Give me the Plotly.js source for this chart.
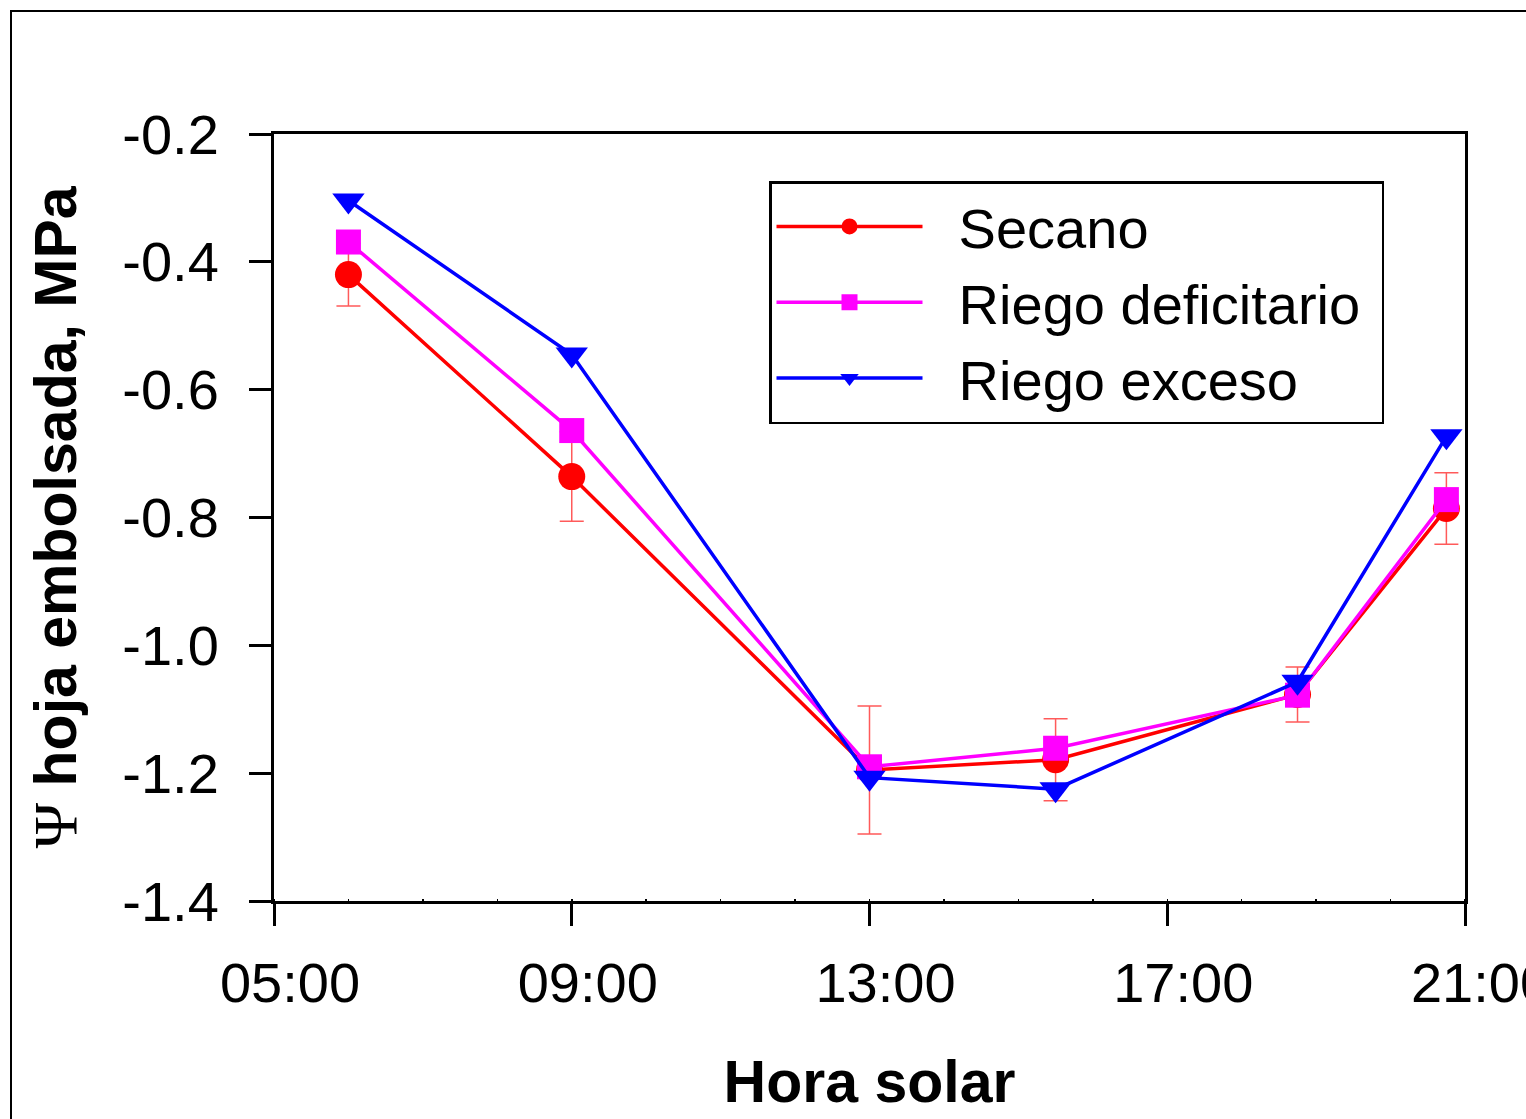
<!DOCTYPE html>
<html>
<head>
<meta charset="utf-8">
<script src="https://cdn.plot.ly/plotly-3.0.1.min.js"></script>
<style>
  html, body { margin: 0; padding: 0; background: #fff; overflow: hidden; }
  #chart { width: 1526px; height: 1119px; }
</style>
</head>
<body>
<div id="chart"></div>
<script>
// Hours of day (solar time, decimal hours)
const hours = [6.0, 9.0, 13.0, 15.5, 18.75, 20.75];

// Leaf water potential (MPa)
const secano = [-0.42, -0.736, -1.195, -1.179, -1.077, -0.786];
const secanoErr = [0.049, 0.070, 0.100, 0.064, 0.043, 0.056];
const riegoDeficitario = [-0.369, -0.664, -1.190, -1.161, -1.078, -0.772];
const riegoExceso = [-0.304, -0.545, -1.207, -1.225, -1.057, -0.673];

// Series names
const seriesNames = ["Secano", "Riego deficitario", "Riego exceso"];

// Tick labels
const xTickVals = [5, 9, 13, 17, 21];
const xTickText = ["05:00", "09:00", "13:00", "17:00", "21:00"];
const yTickVals = [-0.2, -0.4, -0.6, -0.8, -1.0, -1.2, -1.4];
const yTickText = ["-0.2", "-0.4", "-0.6", "-0.8", "-1.0", "-1.2", "-1.4"];

const FONT = "Liberation Sans, Arial, sans-serif";
const NB = "\u00a0";

const traces = [
  {
    x: hours, y: secano, name: NB + NB + seriesNames[0], type: "scatter", mode: "lines+markers",
    line: { color: "#ff0000", width: 3.5 },
    marker: { symbol: "circle", size: 27, color: "#ff0000" },
    error_y: { type: "data", array: secanoErr, symmetric: true, color: "#ff5a5a", thickness: 1.5, width: 12 }
  },
  {
    x: hours, y: riegoDeficitario, name: NB + NB + seriesNames[1] + NB, type: "scatter", mode: "lines+markers",
    line: { color: "#ff00ff", width: 3.5 },
    marker: { symbol: "square", size: 25, color: "#ff00ff" }
  },
  {
    x: hours, y: riegoExceso, name: NB + NB + seriesNames[2], type: "scatter", mode: "lines+markers",
    line: { color: "#0000ff", width: 3.5 },
    marker: { symbol: "triangle-down", size: 28, color: "#0000ff" }
  }
];

const layout = {
  width: 1526, height: 1119,
  margin: { l: 274, r: 61, t: 134, b: 218, pad: 0 },
  paper_bgcolor: "#ffffff", plot_bgcolor: "#ffffff",
  font: { family: FONT, size: 56, color: "#000" },
  showlegend: true,
  legend: {
    x: (769 - 274) / 1191, xanchor: "left", y: (901 - 181) / 767, yanchor: "top",
    bgcolor: "#ffffff", bordercolor: "#000", borderwidth: 2.5,
    font: { family: FONT, size: 56, color: "#000" },
    itemwidth: 146, tracegroupgap: 0
  },
  xaxis: {
    range: [5, 21], tickvals: xTickVals, ticktext: xTickText,
    showgrid: false, zeroline: false,
    showline: true, linecolor: "#000", linewidth: 3, mirror: true,
    ticks: "outside", ticklen: 22, tickwidth: 3, tickcolor: "#000",
    ticklabelstandoff: 9, ticklabelshift: 16, ticklabeloverflow: "allow",
    minor: { dtick: 1, ticks: "inside", ticklen: 2, tickwidth: 1.5, tickcolor: "#000" },
    tickfont: { family: FONT, size: 56, color: "#000" },
    title: { text: "<b>Hora solar</b>", font: { family: FONT, size: 59, color: "#000" }, standoff: 48 }
  },
  yaxis: {
    range: [-1.4, -0.2], tickvals: yTickVals, ticktext: yTickText,
    showgrid: false, zeroline: false,
    showline: true, linecolor: "#000", linewidth: 3, mirror: true,
    ticks: "outside", ticklen: 22, tickwidth: 3, tickcolor: "#000",
    ticklabelstandoff: 19,
    tickfont: { family: FONT, size: 56, color: "#000" },
    title: {
      text: '<span style="font-family:Liberation Serif, Times New Roman, serif;font-size:62px">Ψ</span> <b>hoja embolsada, MPa</b>',
      font: { family: FONT, size: 59, color: "#000" }, standoff: 27
    }
  },
  shapes: [
    {
      type: "rect", xref: "paper", yref: "paper",
      x0: (11 - 274) / 1191, x1: 2.0, y0: -2.0, y1: (901 - 11) / 767,
      line: { color: "#000", width: 2 }, fillcolor: "rgba(0,0,0,0)", layer: "below"
    }
  ]
};

Plotly.newPlot("chart", traces, layout, { displayModeBar: false, staticPlot: true });
</script>
</body>
</html>
